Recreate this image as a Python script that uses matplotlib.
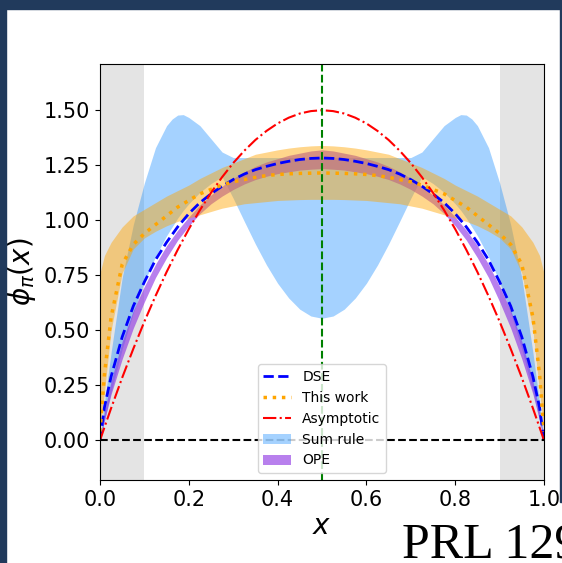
"""Pion distribution amplitude phi_pi(x): DSE, this work, asymptotic, sum rule and OPE bands."""

import matplotlib.pyplot as plt
from matplotlib.patches import Rectangle

OUT_PNG = "out.png"

X = [0, 0.01, 0.025, 0.05, 0.075, 0.1, 0.125, 0.15, 0.175, 0.2, 0.225, 0.25, 0.275, 0.3,
     0.325, 0.35, 0.375, 0.4, 0.425, 0.45, 0.475, 0.5, 0.525, 0.55, 0.575, 0.6, 0.625,
     0.65, 0.675, 0.7, 0.725, 0.75, 0.775, 0.8, 0.825, 0.85, 0.875, 0.9, 0.925, 0.95,
     0.975, 0.99, 1.0]

ASYMPTOTIC = [0, 0.059, 0.146, 0.285, 0.416, 0.54, 0.656, 0.765, 0.866, 0.96, 1.046, 1.125,
              1.196, 1.26, 1.316, 1.365, 1.406, 1.44, 1.466, 1.485, 1.496, 1.5, 1.496, 1.485,
              1.466, 1.44, 1.406, 1.365, 1.316, 1.26, 1.196, 1.125, 1.046, 0.96, 0.866, 0.765,
              0.656, 0.54, 0.416, 0.285, 0.146, 0.059, 0]

DSE = [0, 0.15, 0.29, 0.47, 0.61, 0.72, 0.82, 0.90, 0.97, 1.03, 1.08, 1.12, 1.155, 1.185,
       1.21, 1.23, 1.245, 1.258, 1.268, 1.276, 1.281, 1.283, 1.281, 1.276, 1.268, 1.258,
       1.245, 1.23, 1.21, 1.185, 1.155, 1.12, 1.08, 1.03, 0.97, 0.90, 0.82, 0.72, 0.61, 0.47,
       0.29, 0.15, 0]

THIS_WORK = [0.04, 0.30, 0.56, 0.80, 0.89, 0.94, 0.98, 1.02, 1.06, 1.09, 1.12, 1.14, 1.16,
             1.175, 1.185, 1.195, 1.203, 1.208, 1.211, 1.213, 1.214, 1.215, 1.214, 1.213,
             1.211, 1.208, 1.203, 1.195, 1.185, 1.175, 1.16, 1.14, 1.12, 1.09, 1.06, 1.02,
             0.98, 0.94, 0.89, 0.80, 0.56, 0.30, 0.04]

THIS_WORK_LO = [0.05, 0.22, 0.50, 0.76, 0.87, 0.92, 0.95, 0.975, 0.995, 1.01, 1.025, 1.04,
                1.055, 1.065, 1.075, 1.08, 1.085, 1.09, 1.092, 1.094, 1.095, 1.095, 1.095,
                1.094, 1.092, 1.09, 1.085, 1.08, 1.075, 1.065, 1.055, 1.04, 1.025, 1.01,
                0.995, 0.975, 0.95, 0.92, 0.87, 0.76, 0.50, 0.22, 0.05]
THIS_WORK_HI = [0.76, 0.84, 0.90, 0.97, 1.02, 1.05, 1.08, 1.11, 1.135, 1.16, 1.19, 1.215,
                1.24, 1.26, 1.28, 1.30, 1.31, 1.32, 1.328, 1.334, 1.338, 1.34, 1.338, 1.334,
                1.328, 1.32, 1.31, 1.30, 1.28, 1.26, 1.24, 1.215, 1.19, 1.16, 1.135, 1.11,
                1.08, 1.05, 1.02, 0.97, 0.90, 0.84, 0.76]

X_SUM = [0, 0.01, 0.025, 0.05, 0.075, 0.1, 0.125, 0.15, 0.1625, 0.175, 0.1875, 0.2, 0.225,
         0.25, 0.275, 0.3, 0.325, 0.35, 0.375, 0.4, 0.425, 0.45, 0.475, 0.5, 0.525, 0.55,
         0.575, 0.6, 0.625, 0.65, 0.675, 0.7, 0.725, 0.75, 0.775, 0.8, 0.8125, 0.825, 0.8375,
         0.85, 0.875, 0.9, 0.925, 0.95, 0.975, 0.99, 1.0]
SUM_RULE_LO = [0, 0.09, 0.22, 0.415, 0.58, 0.72, 0.835, 0.93, 0.97, 1.01, 1.045, 1.075,
               1.127, 1.167, 1.198, 1.10, 0.995, 0.892, 0.797, 0.714, 0.647, 0.596, 0.565,
               0.555, 0.565, 0.596, 0.647, 0.714, 0.797, 0.892, 0.995, 1.10, 1.198, 1.167,
               1.127, 1.075, 1.045, 1.01, 0.97, 0.93, 0.835, 0.72, 0.58, 0.415, 0.22, 0.09, 0]
SUM_RULE_HI = [0, 0.17, 0.40, 0.74, 0.98, 1.17, 1.33, 1.43, 1.46, 1.478, 1.48, 1.467, 1.43,
               1.37, 1.31, 1.285, 1.285, 1.285, 1.285, 1.285, 1.285, 1.285, 1.285, 1.285,
               1.285, 1.285, 1.285, 1.285, 1.285, 1.285, 1.285, 1.285, 1.31, 1.37, 1.43,
               1.467, 1.48, 1.478, 1.46, 1.43, 1.33, 1.17, 0.98, 0.74, 0.40, 0.17, 0]

OPE_LO = [0, 0.09, 0.21, 0.37, 0.51, 0.63, 0.74, 0.83, 0.91, 0.975, 1.03, 1.075, 1.11, 1.14,
          1.165, 1.185, 1.20, 1.212, 1.22, 1.228, 1.232, 1.235, 1.232, 1.228, 1.22, 1.212,
          1.20, 1.185, 1.165, 1.14, 1.11, 1.075, 1.03, 0.975, 0.91, 0.83, 0.74, 0.63, 0.51,
          0.37, 0.21, 0.09, 0]
OPE_HI = [0, 0.13, 0.27, 0.45, 0.59, 0.70, 0.80, 0.885, 0.955, 1.015, 1.07, 1.115, 1.155,
          1.19, 1.22, 1.245, 1.265, 1.28, 1.295, 1.305, 1.315, 1.32, 1.315, 1.305, 1.295,
          1.28, 1.265, 1.245, 1.22, 1.19, 1.155, 1.115, 1.07, 1.015, 0.955, 0.885, 0.80,
          0.70, 0.59, 0.45, 0.27, 0.13, 0]

X_TICKS = [0.0, 0.2, 0.4, 0.6, 0.8, 1.0]
Y_TICKS = [0.0, 0.25, 0.5, 0.75, 1.0, 1.25, 1.5]

NAVY = "#213a5c"


def main() -> int:
    fig = plt.figure(figsize=(5.62, 5.63), dpi=100)
    ax = fig.add_axes([100 / 562, 1 - 480 / 563, 444 / 562, 416 / 563])

    ax.axvspan(0.0, 0.1, color="lightgray", alpha=0.6, lw=0)
    ax.axvspan(0.9, 1.0, color="lightgray", alpha=0.6, lw=0)

    ax.fill_between(X_SUM, SUM_RULE_LO, SUM_RULE_HI, color="dodgerblue", alpha=0.4, lw=0,
                    label="Sum rule")
    ax.fill_between(X, OPE_LO, OPE_HI, color="blueviolet", alpha=0.6, lw=0, label="OPE")
    ax.fill_between(X, THIS_WORK_LO, THIS_WORK_HI, color="orange", alpha=0.45, lw=0)

    ax.plot(X, DSE, "--", color="blue", lw=2, label="DSE")
    ax.plot(X, THIS_WORK, ":", color="orange", lw=2.5, label="This work")
    ax.plot(X, ASYMPTOTIC, "-.", color="red", lw=1.5, label="Asymptotic")

    ax.axvline(0.5, color="green", linestyle="--", lw=1.5)
    ax.axhline(0.0, color="black", linestyle="--", lw=1.5)

    ax.set_xlim(0, 1)
    ax.set_ylim(-0.18, 1.71)
    ax.set_xticks(X_TICKS)
    ax.set_xticklabels([f"{t:.1f}" for t in X_TICKS])
    ax.set_yticks(Y_TICKS)
    ax.set_yticklabels([f"{t:.2f}" for t in Y_TICKS])
    ax.tick_params(labelsize=15)
    ax.set_xlabel("$x$", fontsize=20, labelpad=2)
    ax.set_ylabel(r"$\phi_\pi(x)$", fontsize=20, labelpad=4)

    handles, labels = ax.get_legend_handles_labels()
    order = [labels.index(n) for n in ["DSE", "This work", "Asymptotic", "Sum rule", "OPE"]]
    ax.legend([handles[i] for i in order], [labels[i] for i in order],
              loc="lower center", fontsize=10)

    # slide frame around the screenshot
    for x0, y0, w, h in [(0, 554, 562, 9), (0, 0, 6, 563), (560, 61, 2, 502)]:
        fig.add_artist(Rectangle((x0 / 562, y0 / 563), w / 562, h / 563,
                                 transform=fig.transFigure, color=NAVY, zorder=10))

    fig.text(402 / 562, 1 - 557 / 563, "PRL 129", family="Liberation Serif", fontsize=36,
             va="baseline", ha="left")

    fig.savefig(OUT_PNG, dpi=100)
    return 0


if __name__ == "__main__":
    raise SystemExit(main())
